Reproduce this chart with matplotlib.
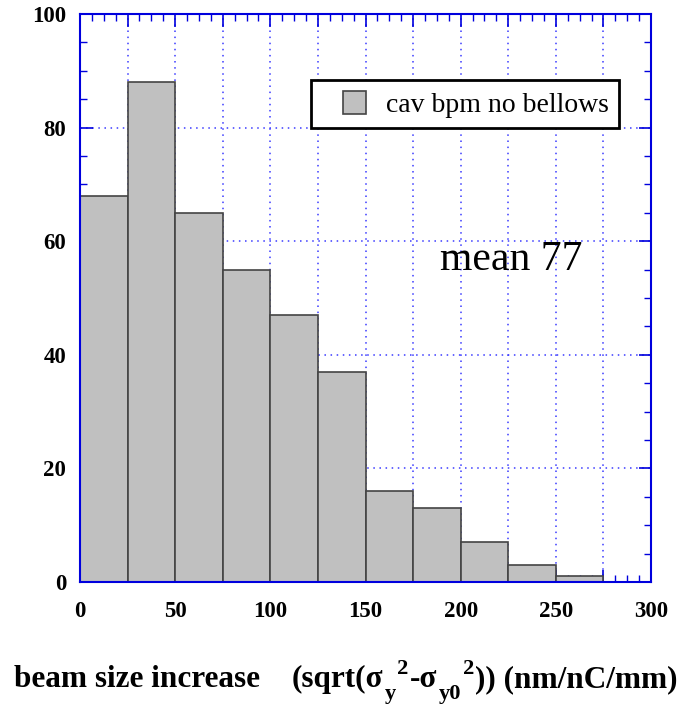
import matplotlib
matplotlib.use("Agg")
import matplotlib.pyplot as plt
from matplotlib.ticker import MultipleLocator, FuncFormatter
from matplotlib.legend_handler import HandlerPatch
from matplotlib.patches import Rectangle
from matplotlib.transforms import IdentityTransform

bin_edges = [0, 25, 50, 75, 100, 125, 150, 175, 200, 225, 250, 275]
counts = [68, 88, 65, 55, 47, 37, 16, 13, 7, 3, 1]
legend_label = "cav bpm no bellows"
mean_text = "mean 77"

fig = plt.figure(figsize=(6.8, 7.05), dpi=100)
ax = fig.add_axes([80/680, 1-582/705, 571/680, 568/705])

blue = '#0000dd'
lefts = bin_edges[:-1]
widths = [bin_edges[i+1]-bin_edges[i] for i in range(len(counts))]
bars = ax.bar(lefts, counts, width=widths, align='edge', color='#c0c0c0',
              edgecolor='#444444', linewidth=1.2, label=legend_label, zorder=3)

ax.set_xlim(0, 300)
ax.set_ylim(0, 100)
ax.xaxis.set_major_locator(MultipleLocator(25))
ax.xaxis.set_minor_locator(MultipleLocator(6.25))
ax.yaxis.set_major_locator(MultipleLocator(20))
ax.yaxis.set_minor_locator(MultipleLocator(5))
ax.xaxis.set_major_formatter(FuncFormatter(lambda v, p: f"{int(round(v))}" if round(v) % 50 == 0 else ""))
ax.yaxis.set_major_formatter(FuncFormatter(lambda v, p: f"{int(round(v))}"))

ax.grid(True, which='major', color='#3a3aff', linestyle=(0, (1, 3)), linewidth=1.1, zorder=1)
ax.set_axisbelow(True)
for s in ax.spines.values():
    s.set_color(blue)
    s.set_linewidth(1.5)
    s.set_zorder(4)

ax.tick_params(which='both', direction='in', top=True, right=True, color=blue)
ax.tick_params(which='major', length=9, width=1.2)
ax.tick_params(which='minor', length=5, width=1.0)
ax.tick_params(axis='x', which='major', pad=14)
ax.tick_params(axis='y', which='major', pad=10)
for lbl in ax.get_xticklabels() + ax.get_yticklabels():
    lbl.set_fontfamily('Liberation Serif')
    lbl.set_fontweight('bold')
    lbl.set_fontsize(16.5)


def square_right(legend, orig_handle, xdescent, ydescent, width, height, fontsize):
    return Rectangle((-xdescent + width - height, -ydescent), height, height)


leg = ax.legend([bars.patches[0]], [legend_label],
                loc='upper right', bbox_to_anchor=((619-80)/571, (582-80)/568),
                prop={'family': 'Liberation Serif', 'size': 20},
                handlelength=1.6, handleheight=0.9, handletextpad=0.7,
                borderpad=0.38, borderaxespad=0, fancybox=False, framealpha=1,
                edgecolor='black',
                handler_map={Rectangle: HandlerPatch(patch_func=square_right)})
leg.get_frame().set_linewidth(2)
leg.set_zorder(5)

ax.text(189, 55, mean_text, fontfamily='Liberation Serif', fontsize=30,
        ha='left', va='baseline', zorder=6)

# x-axis title built from pieces (PAW-style sub/superscripts)
base_size = 22.5
pieces = [
    ("beam size increase", 1.0, 0, 0),
    ("(sqrt(\u03c3", 1.0, 0, 32),
    ("y", 0.72, -12, 2),
    ("2", 0.72, 13, 1),
    ("-\u03c3", 1.0, 0, 1),
    ("y0", 0.72, -12, 2),
    ("2", 0.72, 13, 1),
    (")) (nm/nC/mm)", 1.0, 0, 1),
]
renderer = fig.canvas.get_renderer()
texts = []
total = 0.0
for txt, sc, dy, gap in pieces:
    t = fig.text(0, 0, txt, fontfamily='Liberation Serif', fontweight='bold',
                 fontsize=base_size*sc, ha='left', va='baseline',
                 transform=IdentityTransform())
    w = t.get_window_extent(renderer).width
    texts.append((t, w, dy, gap))
    total += gap + w
baseline_px = 705 - 687
x = 345.5 - total/2
for t, w, dy, gap in texts:
    x += gap
    t.set_position((x, baseline_px + dy))
    x += w

fig.savefig('out.png', dpi=100)
